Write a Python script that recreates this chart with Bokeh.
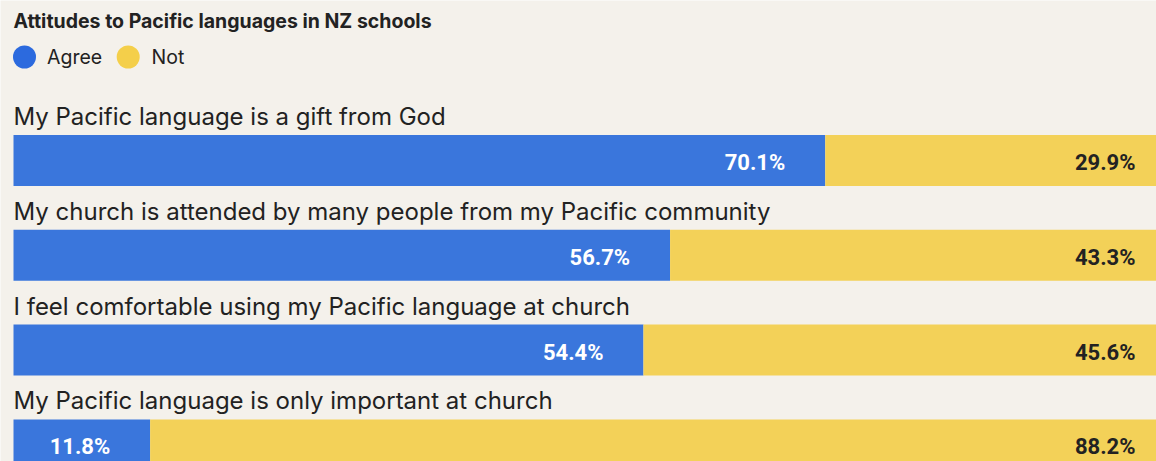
from bokeh.plotting import figure
from bokeh.models import Range1d, ColumnDataSource
from bokeh.core.properties import value
from bokeh.embed import file_html
from bokeh.resources import INLINE

# ---- data ----
title = "Attitudes to Pacific languages in NZ schools"
statements = [
    "My Pacific language is a gift from God",
    "My church is attended by many people from my Pacific community",
    "I feel comfortable using my Pacific language at church",
    "My Pacific language is only important at church",
]
agree = [70.1, 56.7, 54.4, 11.8]
not_agree = [29.9, 43.3, 45.6, 88.2]
series_names = ["Agree", "Not"]

# ---- styles ----
BG = "#f4f1eb"
BLUE = "#3a76dc"
YELLOW = "#f3d158"
LEG_BLUE = "#2c6ade"
LEG_YELLOW = "#f4cf4a"
DARK = "#222222"
FONT = "Inter"
NUMFONT = "Roboto"

W, H = 1156, 461
SX = 11.58          # px per percent
SY = 94.8           # px per row
X0 = -13 / SX
Y0 = -160 / SY      # row units at top of frame

def dx(px):  # px from frame left -> data x
    return X0 + px / SX

def dy(px):  # px from frame top -> data y
    return Y0 + px / SY

p = figure(width=W, height=H, output_backend="svg", toolbar_location=None,
           x_range=Range1d(X0, X0 + W / SX), y_range=Range1d(Y0 + H / SY, Y0),
           min_border=0, outline_line_color=None,
           background_fill_color=BG, border_fill_color=BG)
p.xaxis.visible = False
p.yaxis.visible = False
p.grid.visible = False

rows = list(range(len(statements)))
total = [a + n for a, n in zip(agree, not_agree)]
src = ColumnDataSource(dict(
    y=rows, agree=agree, not_agree=not_agree, total=total,
    statement=statements,
    agree_lbl=[f"{v:.1f}%" for v in agree],
    not_lbl=[f"{v:.1f}%" for v in not_agree],
    zero=[0] * len(rows),
))

BAR_H = 51 / SY
p.hbar(y="y", left="zero", right="agree", height=BAR_H, source=src,
       fill_color=BLUE, line_color=None)
p.hbar(y="y", left="agree", right="total", height=BAR_H, source=src,
       fill_color=YELLOW, line_color=None)

# statement labels above each bar
p.text(x="zero", y="y", text="statement", source=src,
       y_offset=-44, x_offset=0,
       text_font=value(FONT), text_font_size="24px", text_color=DARK,
       text_baseline="alphabetic", text_align="left")

# value labels
p.text(x="agree", y="y", text="agree_lbl", source=src, x_offset=-40, y_offset=2,
       text_font=value(NUMFONT), text_font_style="bold", text_font_size="22px",
       text_color="white", text_align="right", text_baseline="alphabetic")
p.text(x="total", y="y", text="not_lbl", source=src, x_offset=-36, y_offset=2,
       text_font=value(NUMFONT), text_font_style="bold", text_font_size="22px",
       text_color=DARK, text_align="right", text_baseline="alphabetic")

# title
p.text(x=[dx(13)], y=[dy(20.3)], text=[title], text_font=value(FONT),
       text_font_style="bold", text_font_size="19.5px", text_color=DARK,
       text_baseline="alphabetic")

# legend
p.scatter(x=[dx(24), dx(127.7)], y=[dy(56.5), dy(56.5)], size=23,
          marker="circle", fill_color=[LEG_BLUE, LEG_YELLOW], line_color=None)
p.text(x=[dx(46.5), dx(151)], y=[dy(56.3), dy(56.3)], text=series_names,
       text_font=value(FONT), text_font_size="19.5px", text_color=DARK,
       text_baseline="alphabetic")

open("out.html", "w").write(file_html(p, INLINE))
